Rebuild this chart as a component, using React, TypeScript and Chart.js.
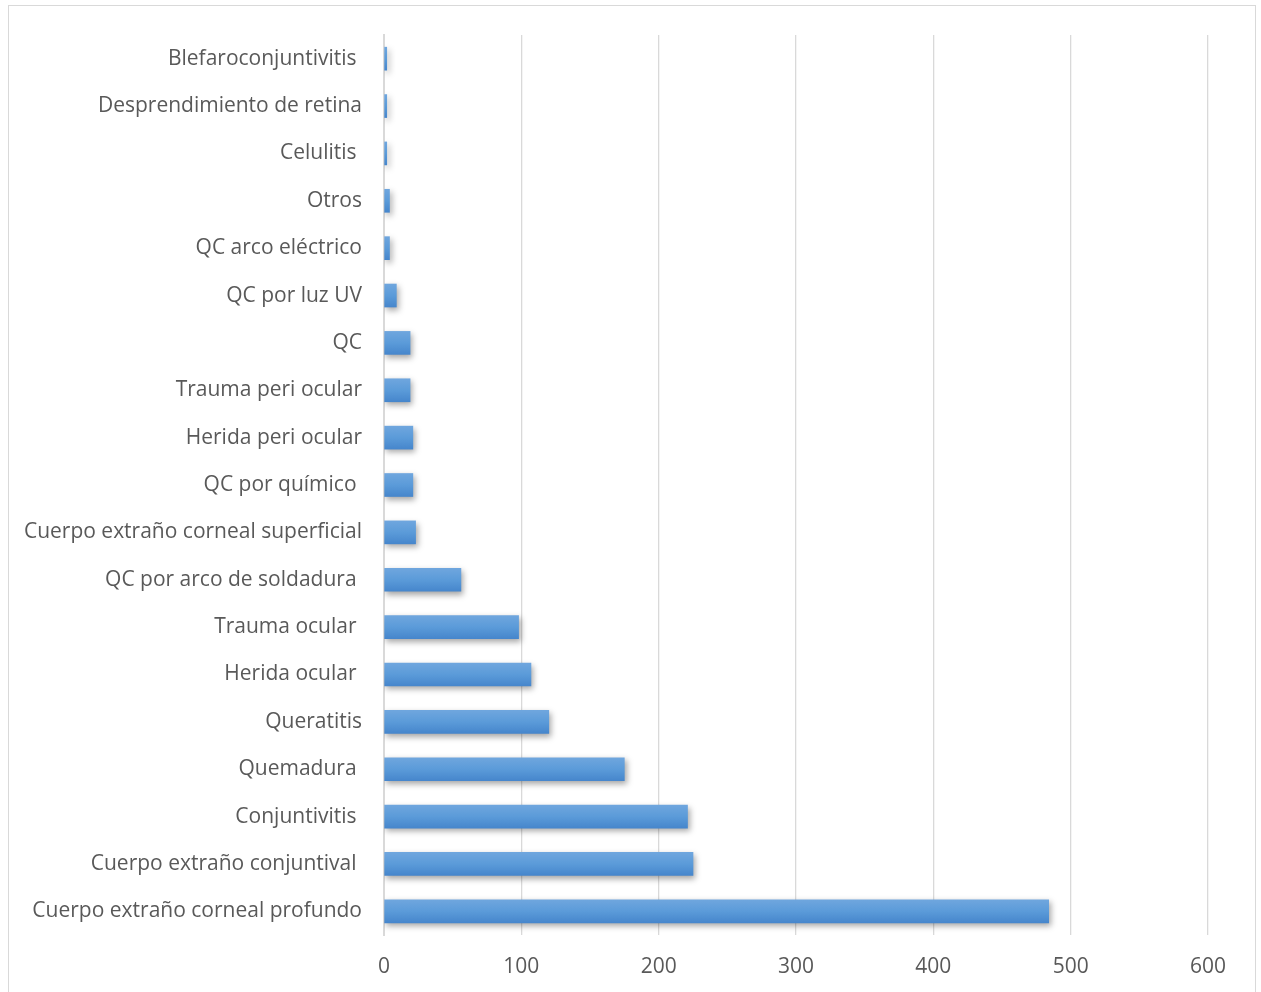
import React, { useEffect, useRef } from "react";
import { Chart, registerables } from "chart.js";

Chart.register(...registerables);

const categories = [
  "Blefaroconjuntivitis ",
  "Desprendimiento de retina",
  "Celulitis ",
  "Otros",
  "QC arco eléctrico",
  "QC por luz UV",
  "QC",
  "Trauma peri ocular",
  "Herida peri ocular",
  "QC por químico ",
  "Cuerpo extraño corneal superficial",
  "QC por arco de soldadura ",
  "Trauma ocular ",
  "Herida ocular ",
  "Queratitis",
  "Quemadura ",
  "Conjuntivitis ",
  "Cuerpo extraño conjuntival ",
  "Cuerpo extraño corneal profundo",
];

const values = [2, 2, 2, 4, 4, 9, 19, 19, 21, 21, 23, 56, 98, 107, 120, 175, 221, 225, 484];

const xTicks = [0, 100, 200, 300, 400, 500, 600];

const FONT = "'Open Sans', sans-serif";

export default function App() {
  const ref = useRef<HTMLCanvasElement>(null);
  useEffect(() => {
    const canvas = ref.current!;
    const shadowPlugin = {
      id: "barShadow",
      beforeDatasetsDraw(chart: any) {
        const ctx = chart.ctx;
        ctx.save();
        ctx.shadowColor = "rgba(0,0,0,0.35)";
        ctx.shadowBlur = 6;
        ctx.shadowOffsetX = 2;
        ctx.shadowOffsetY = 3;
      },
      afterDatasetsDraw(chart: any) {
        chart.ctx.restore();
      },
    };
    const chart = new Chart(canvas, {
      type: "bar",
      data: {
        labels: categories,
        datasets: [
          {
            data: values,
            barThickness: 23,
            borderWidth: 0,
            backgroundColor: (c: any) => {
              const chartObj = c.chart;
              const y = chartObj.scales?.y;
              if (!y || c.dataIndex === undefined) return "#5b9bd5";
              const cy = y.getPixelForValue(c.dataIndex);
              if (!isFinite(cy)) return "#5b9bd5";
              const g = chartObj.ctx.createLinearGradient(0, cy - 11.5, 0, cy + 11.5);
              g.addColorStop(0, "#6fa6de");
              g.addColorStop(0.5, "#5b9bd9");
              g.addColorStop(1, "#4686cc");
              return g;
            },
          },
        ],
      },
      options: {
        indexAxis: "y",
        animation: false,
        responsive: false,
        maintainAspectRatio: false,
        layout: { padding: { left: 0, top: 29, right: 47, bottom: 0 } },
        plugins: {
          legend: { display: false },
          tooltip: { enabled: false },
        },
        scales: {
          x: {
            min: 0,
            max: 600,
            afterBuildTicks: (s: any) => {
              s.ticks = xTicks.map((v) => ({ value: v }));
            },
            afterFit: (s: any) => {
              s.height = 57;
              s.paddingLeft = 0;
              s.paddingRight = 0;
            },
            grid: { color: "#d9d9d9", lineWidth: 1.3, drawTicks: false },
            border: { display: false },
            ticks: {
              color: "#595959",
              font: { family: FONT, size: 21 },
              padding: 19,
            },
          },
          y: {
            afterFit: (s: any) => {
              s.width = 375;
              s.paddingTop = 0;
              s.paddingBottom = 0;
            },
            grid: { display: false, drawTicks: false },
            border: { display: true, color: "#d9d9d9", width: 2 },
            ticks: {
              color: "#595959",
              font: { family: FONT, size: 21 },
              padding: 22,
              autoSkip: false,
            },
          },
        },
      },
      plugins: [shadowPlugin],
    });
    return () => chart.destroy();
  }, []);
  return (
    <div
      style={{
        position: "absolute",
        left: 8,
        top: 5,
        width: 1246,
        height: 986,
        border: "1px solid #d9d9d9",
        background: "#fff",
      }}
    >
      <canvas ref={ref} width={1246} height={986} style={{ display: "block" }} />
    </div>
  );
}
